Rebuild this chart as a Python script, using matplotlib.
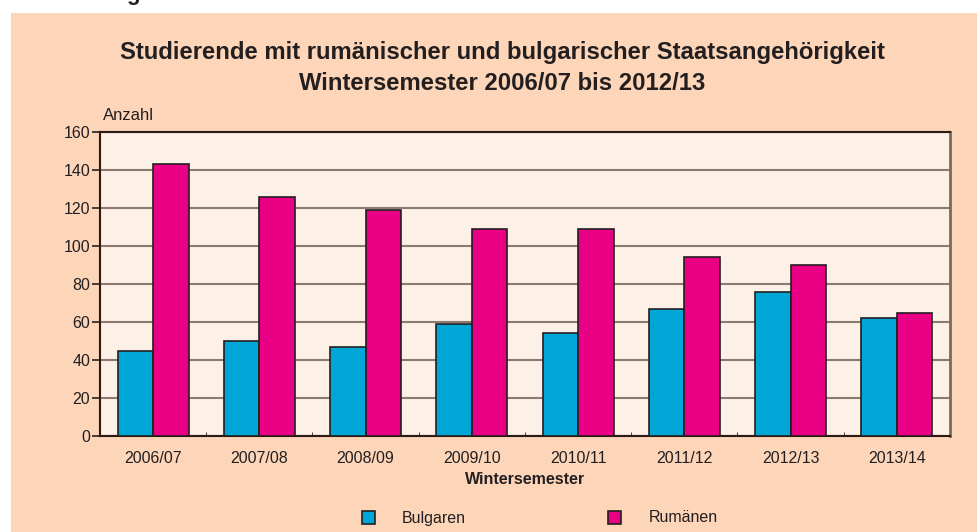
import numpy as np
import matplotlib
matplotlib.use('Agg')
import matplotlib.pyplot as plt
from matplotlib.patches import Rectangle

plt.rcParams['font.family'] = ['Liberation Sans', 'DejaVu Sans']

semester = ['2006/07', '2007/08', '2008/09', '2009/10', '2010/11', '2011/12', '2012/13', '2013/14']
bulgaren = [45, 50, 47, 59, 54, 67, 76, 62]
rumaenen = [143, 126, 119, 109, 109, 94, 90, 65]

W, H = 978, 532
fig = plt.figure(figsize=(W / 100, H / 100), dpi=100)
fig.patch.set_facecolor('white')

# peach panel behind everything
fig.add_artist(Rectangle((11 / W, 0), 1 - 11 / W, (H - 13) / H, transform=fig.transFigure,
                         facecolor='#fdd5b9', edgecolor='none', zorder=-5))
# cut-off heading above the panel (only the descender is visible)
fig.text(126 / W, 1.0, 'g', fontsize=16, fontweight='bold', color='#231f20', va='baseline')

ax = fig.add_axes([100 / W, (H - 436) / H, 850 / W, 304 / H])
ax.set_zorder(2)
ax.set_facecolor('#fdf0e6')

txt = '#231f20'
x = np.arange(len(semester))
w = 0.335
ax.bar(x - w / 2, bulgaren, w, color='#00a6d6', edgecolor='#231f20', linewidth=1.2, zorder=3, label='Bulgaren')
ax.bar(x + w / 2, rumaenen, w, color='#ea0084', edgecolor='#231f20', linewidth=1.2, zorder=3, label='Rumänen')

ax.set_xlim(-0.5, len(semester) - 0.5)
ax.set_ylim(0, 160)
ax.set_yticks(range(0, 161, 20))
ax.set_xticks(x)
ax.set_xticklabels(semester)
ax.set_xticks(np.arange(-0.5, len(semester)), minor=True)
ax.tick_params(axis='x', which='major', length=0, pad=11, labelsize=11.5, labelcolor=txt)
ax.tick_params(axis='x', which='minor', length=3, direction='in', color=txt)
ax.tick_params(axis='y', length=6, width=1.2, color=txt, labelsize=11.5, labelcolor=txt, pad=1)

ax.grid(axis='y', color='#8c7b70', linewidth=1.5, zorder=1)
ax.set_axisbelow(True)
for s in ['left', 'bottom', 'top']:
    ax.spines[s].set_color('#2a1a12')
    ax.spines[s].set_linewidth(1.5)
ax.spines['right'].set_color('#7a6a60')
ax.spines['right'].set_linewidth(2)

ax.set_xlabel('Wintersemester', fontsize=11.5, fontweight='bold', color=txt, labelpad=4)
fig.text(103 / W, 1 - 116 / H, 'Anzahl', fontsize=12, color=txt, va='center')

fig.text(502 / W, 1 - 53 / H, 'Studierende mit rumänischer und bulgarischer Staatsangehörigkeit',
         fontsize=17.2, fontweight='bold', color=txt, ha='center', va='center')
fig.text(502 / W, 1 - 83 / H, 'Wintersemester 2006/07 bis 2012/13',
         fontsize=17.2, fontweight='bold', color=txt, ha='center', va='center')

# legend
for bx, tx, col, lab in [(362, 402, '#00a6d6', 'Bulgaren'), (608, 649, '#ea0084', 'Rumänen')]:
    fig.add_artist(Rectangle((bx / W, 1 - 524 / H), 13 / W, 13 / H, transform=fig.transFigure,
                             facecolor=col, edgecolor='#231f20', linewidth=1.2, zorder=2))
    fig.text(tx / W, 1 - 518 / H, lab, fontsize=11.5, color=txt, va='center')

fig.savefig('out.png', dpi=100)
